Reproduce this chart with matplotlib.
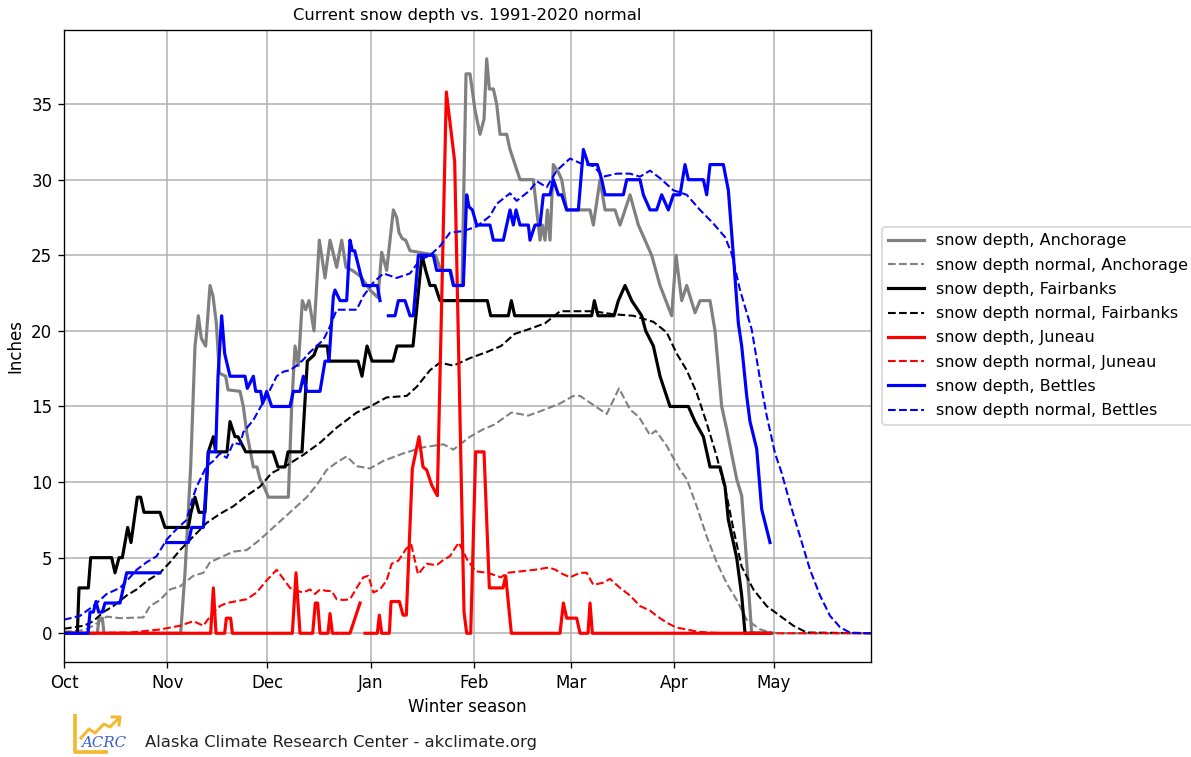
import numpy as np
import matplotlib
matplotlib.use("Agg")
import matplotlib.pyplot as plt
from matplotlib.lines import Line2D

nan = np.nan

# ---------------- data (day since Oct 1, inches) ----------------
month_labels = ['Oct', 'Nov', 'Dec', 'Jan', 'Feb', 'Mar', 'Apr', 'May']
month_days = [0, 31, 61, 92, 123, 152, 183, 213]

anchorage_depth = [
    (0, 0), (10, 0), (10.5, 1), (11.5, 1), (12, 0), (35, 0), (36.3, 4), (38, 11), (39.3, 19),
    (40.3, 21), (41.2, 19.5), (42.5, 19), (43.8, 23), (44.7, 22.3), (45.7, 20.5), (46.6, 17.2),
    (48.5, 17), (49.2, 16.1), (52.8, 16), (53.8, 15), (54.8, 13.3), (56.8, 11), (57.9, 11),
    (58.8, 10.2), (60, 9.7), (61.3, 9), (67.3, 9), (68.3, 15), (69.3, 19), (70.3, 17.7),
    (71.5, 22), (72.5, 21.4), (73.5, 22), (75, 20), (76.6, 26), (78.3, 23.5), (79.8, 26),
    (81.8, 24.2), (83.3, 26), (84.6, 24.2), (86.5, 24), (89, 23.6), (91.8, 22.7), (94.2, 22.2),
    (95.3, 25.2), (96.8, 24), (98.8, 28), (99.8, 27.5), (100.5, 26.5), (101.5, 26.1),
    (102.5, 26), (103.8, 25.3), (111.5, 25), (113, 24), (116, 24), (117, 23), (119.4, 23),
    (120.6, 37), (121.8, 37), (123.3, 34.6), (124.8, 33), (126, 34), (126.8, 38), (127.6, 36),
    (128.8, 36), (129.8, 35), (130.8, 33), (132.8, 33), (133.8, 32), (135.3, 31), (136.8, 30),
    (140.8, 30), (142.8, 26), (143.5, 27), (144.3, 26), (145, 28), (145.8, 26), (146.8, 31),
    (148.3, 30.5), (149.3, 30), (150.8, 28), (157.8, 28), (158.8, 27), (160.8, 30), (162.3, 28),
    (165.3, 28), (166.8, 27), (169.8, 29), (172.3, 27), (174.3, 26), (176.3, 25), (178.8, 23),
    (182.3, 21), (183.6, 25), (185.3, 22), (186.8, 23), (189.3, 21.2), (190.8, 22), (193.8, 22),
    (195.3, 20), (197.3, 15), (198.8, 13.5), (201.8, 10.2), (203.3, 9.1), (204.8, 4.7),
    (206.3, 0), (212, 0)]

anchorage_normal = [
    (0, 0.1), (6, 0.2), (8.8, 0.5), (12.8, 1.1), (16.8, 1.0), (23.8, 1.05), (25.8, 1.8),
    (28.8, 2.2), (31.8, 2.9), (34.8, 3.1), (38.8, 3.8), (41.8, 4.0), (43.8, 4.7), (46.8, 5.0),
    (50.8, 5.4), (54.8, 5.5), (58.8, 6.2), (63.8, 7.2), (68.8, 8.2), (72.8, 9.0), (75.8, 9.8),
    (78.8, 10.8), (81.8, 11.3), (84.8, 11.7), (87.8, 11.05), (91.8, 10.9), (95.8, 11.4),
    (101.8, 11.9), (107.8, 12.3), (113.8, 12.5), (116.8, 12.15), (121.8, 13.0), (125.8, 13.5),
    (129.1, 13.8), (134.2, 14.6), (139.3, 14.4), (144.3, 14.8), (148.8, 15.2), (152.8, 15.7),
    (154.8, 15.7), (158.8, 15.1), (162.8, 14.5), (166.5, 16.2), (169.8, 14.8), (172.5, 14.3),
    (175.8, 13.1), (177.5, 13.4), (180.8, 12.4), (184.8, 10.8), (186.8, 10.2), (189.8, 8.4),
    (192.8, 6.4), (195.8, 4.7), (198.8, 3.3), (201.8, 2.2), (204.8, 0.9), (208.8, 0.26),
    (212, 0.04), (216, 0), (242, 0)]

fairbanks_depth = [
    (0, 0), (4, 0), (4.5, 3), (7.3, 3), (8, 5), (14.3, 5), (15.3, 4), (16.5, 5), (17.5, 5),
    (18.3, 6), (19.1, 7), (20.1, 6), (22, 9), (23, 9), (24, 8), (28.8, 8), (30.3, 7), (37.3, 7),
    (38.1, 8), (39.3, 9), (40.5, 8), (42.3, 8), (43.3, 12), (44.8, 13), (45.5, 12), (48.9, 12),
    (49.8, 14), (51.3, 13), (52.2, 13), (54.5, 12), (62.7, 12), (64.2, 11), (66.3, 11),
    (67.2, 12), (71.4, 12), (73, 18), (75, 18.4), (76, 19), (79, 19), (79.5, 18), (88.2, 18),
    (89.4, 17), (90.9, 19), (92.4, 18), (98.7, 18), (99.9, 19), (104.7, 19), (107.4, 25),
    (108.5, 24), (109.8, 23), (111.3, 23), (112.8, 22), (127, 22), (128, 21), (133.3, 21),
    (134.2, 22), (135.2, 21), (158.3, 21), (159.1, 22), (160.2, 21), (165, 21), (166.3, 22),
    (168.3, 23), (170.3, 22), (173.3, 21), (174.5, 20), (176.8, 19), (178.8, 17), (181.8, 15),
    (187.3, 15), (189.3, 14), (191.8, 13), (193.8, 11), (196.8, 11), (198.3, 9.7), (199.3, 7.5),
    (201.8, 5), (203.3, 2.5), (204.3, 0), (212, 0)]

fairbanks_normal = [
    (0, 0.3), (6, 0.5), (8.8, 0.8), (11.8, 1.4), (14.8, 1.8), (18.8, 2.5), (21.8, 2.9),
    (24.8, 3.45), (28.8, 4.0), (31.8, 4.7), (34.8, 5.5), (38.8, 6.4), (42.8, 7.3), (46.8, 7.9),
    (50.8, 8.4), (54.8, 9.1), (58.8, 9.7), (62.3, 10.6), (66.8, 11.1), (71.8, 11.8),
    (76.8, 12.6), (81.8, 13.6), (87.8, 14.6), (91.8, 15.0), (96.8, 15.6), (102.8, 15.7),
    (105.8, 16.3), (109.8, 17.4), (112.8, 17.9), (116.8, 17.7), (121.8, 18.2), (126.8, 18.6),
    (131.1, 19.0), (135.2, 19.8), (139.3, 20.1), (144.3, 20.5), (148.8, 21.3), (152.8, 21.3),
    (158.8, 21.3), (164.8, 21.1), (170.8, 21.0), (176.8, 20.6), (180.8, 19.9), (183.8, 18.5),
    (186.8, 17.4), (189.8, 15.9), (192.8, 13.9), (195.8, 11.7), (198.8, 9.1), (200.8, 6.9),
    (203.3, 4.4), (206.8, 2.9), (210.8, 1.8), (214.8, 1.15), (218.8, 0.5), (222.8, 0.05),
    (242, 0)]

juneau_depth = [
    (0, 0), (44, 0), (44.8, 3), (45.6, 0), (48.2, 0), (48.7, 1), (50, 1), (50.5, 0), (68.5, 0),
    (69.6, 4), (70.8, 0), (74.6, 0), (75.4, 2), (76.1, 2), (76.8, 0), (79.2, 0), (79.8, 1.3),
    (80.5, 0), (82.3, 0), (82.8, nan), (83.3, 0), (85.8, 0), (88.8, 2), (89.5, nan), (90.3, 0),
    (94, 0), (94.6, 1.2), (95.3, 0), (97.6, 0), (98.1, 2.1), (100.6, 2.1), (101.7, 1.2),
    (102.7, 1.2), (104.5, 10.9), (106.5, 13), (107.7, 11), (108.8, 10.8), (110.3, 9.8),
    (112, 9.1), (114.7, 35.8), (117.2, 31.2), (120, 1.4), (120.8, 0), (122, 0), (123.5, 12),
    (126, 12), (127.6, 3), (131.7, 3), (132.5, 3.8), (134.2, 0), (148.8, 0), (149.8, 2),
    (150.8, 1), (153.8, 1), (154.8, 0), (157.2, 0), (157.8, 2), (158.5, 0), (212, 0)]

juneau_normal = [
    (0, 0), (20, 0.05), (28.8, 0.25), (34.8, 0.5), (38.8, 0.8), (41.8, 0.5), (44.8, 1.4),
    (46.8, 1.8), (48.8, 2.0), (54.8, 2.25), (57.8, 2.7), (60.8, 3.5), (63.8, 4.2), (65.8, 3.6),
    (67.8, 3.0), (69.8, 2.8), (71.8, 2.7), (73.8, 2.9), (75.3, 2.6), (76.8, 2.9), (78.8, 2.8),
    (80.3, 2.8), (81.8, 2.25), (83.8, 2.2), (85.8, 2.25), (87.8, 3.0), (89.8, 3.7), (91.3, 3.8),
    (92.8, 2.7), (94.8, 2.9), (96.8, 3.5), (98.3, 4.6), (100.3, 4.8), (102.7, 5.6),
    (104.2, 5.85), (106.2, 3.9), (108.8, 4.6), (111.8, 4.5), (113.8, 4.85), (115.8, 5.1),
    (118.4, 6.0), (121, 4.85), (123.5, 4.1), (127.1, 4.0), (131.1, 3.7), (133, 4.0),
    (137.2, 4.1), (141.3, 4.2), (145.4, 4.35), (147.5, 4.2), (148.8, 4.0), (151.8, 3.7),
    (154.8, 4.0), (156.8, 4.0), (158.8, 3.2), (161.8, 3.35), (163.8, 3.6), (166.8, 3.0),
    (169.8, 2.5), (172.8, 1.8), (175.8, 1.5), (177.8, 1.15), (180.8, 0.7), (183.8, 0.37),
    (186.8, 0.26), (190, 0.1), (195, 0.03), (200, 0), (242, 0)]

bettles_depth = [
    (0, 0), (7.2, 0), (7.8, 1.4), (8.8, 1.4), (9.6, 2.1), (10.4, 1.4), (11.5, 1.4), (12.3, 2),
    (16.8, 2), (18.8, 4), (28.8, 4), (29.8, nan), (30.8, 6), (37.3, 6), (38.3, 7), (41.8, 7),
    (43.3, 12), (45.5, 12), (46.2, 17), (47.3, 21), (48.2, 18.5), (49.8, 17), (54.3, 17),
    (55, 16.2), (56.8, 17), (57.5, 16), (59, 16), (59.6, 15.2), (60.8, 16), (62.3, 15),
    (67.8, 15), (68.8, 16), (70.8, 16), (71.8, 17), (72.8, 16), (76.8, 16), (78.3, 18),
    (79.5, 18), (80.8, 22.3), (81.3, 22.7), (82.8, 22), (84.8, 22), (85.8, 26), (86.5, 25.3),
    (87.2, 25.3), (89.8, 23), (94, 23), (94.8, 22), (96, nan), (97.3, 21), (99.3, 21),
    (100.3, 22), (102.3, 22), (103.8, 21), (104.8, 21), (106.3, 25), (110.8, 25), (111.8, 24),
    (115.8, 24), (116.8, 23), (119.8, 23), (120.8, 29), (121.5, 28.2), (122.5, 28),
    (123.8, 27), (127.8, 27), (128.8, 26), (131.8, 26), (133.8, 28), (134.8, 27), (135.6, 28),
    (136.8, 27), (139.3, 27), (139.8, 26), (141.3, 27), (142.8, 27), (143.8, 29), (145.8, 29),
    (146.8, 30), (148.3, 29), (149.3, 29), (150.8, 28), (154.3, 28), (155.8, 32), (157.3, 31),
    (160, 31), (161.3, 30), (162.3, 29), (167.8, 29), (168.8, 30), (172.8, 30), (173.8, 29),
    (175.8, 28), (177.8, 28), (179.3, 29), (181.3, 28), (182.8, 29), (184.8, 29), (186.3, 31),
    (187.3, 30), (191.8, 30), (192.8, 29), (193.8, 31), (197.8, 31), (199.3, 29.3),
    (200.8, 25), (202.3, 20.5), (203.3, 19), (204.8, 15.7), (205.8, 14), (207.8, 12.2),
    (209.3, 8.2), (211.8, 6)]

bettles_normal = [
    (0, 0.9), (4.8, 1.15), (8.8, 1.8), (12.8, 2.6), (16.8, 3.0), (18.8, 3.45), (21.8, 4.2),
    (24.8, 4.7), (27.8, 5.1), (30.8, 6.2), (33.8, 6.9), (36.8, 7.5), (38.8, 9.07), (39.8, 9.7),
    (42.8, 11.05), (44.8, 11.4), (46.8, 11.9), (48.8, 11.6), (50.8, 12.6), (52.8, 12.5),
    (53.8, 13.3), (56.8, 14.1), (59.8, 15.3), (61.8, 16.1), (63.8, 17.0), (65.8, 17.3),
    (67.8, 17.4), (69.8, 17.7), (71.8, 18.1), (73.8, 18.6), (77.8, 19.4), (79.8, 20.3),
    (81.8, 21.4), (84.8, 21.4), (87.8, 21.4), (89.8, 22.3), (92.8, 23.2), (95.8, 23.8),
    (99.8, 23.5), (103.8, 23.8), (106.8, 24.7), (109.8, 25.0), (112.8, 25.6), (115.8, 26.5),
    (119.8, 26.6), (123.8, 26.9), (127.8, 27.6), (129.8, 28.4), (133.8, 29.1), (135.8, 28.6),
    (139.8, 29.3), (141.8, 29.9), (144.8, 29.5), (147.8, 30.6), (151.8, 31.4), (154.8, 31.1),
    (158.8, 30.9), (161.8, 30.2), (165.8, 30.4), (169.8, 30.4), (172.8, 30.2), (175.8, 30.6),
    (178.8, 30.1), (182.8, 29.3), (186.8, 29.0), (190.8, 28.0), (194.8, 27.1), (198.3, 26.2),
    (200.3, 25.1), (202.8, 22.7), (206.3, 20.1), (208.8, 16.8), (210.8, 14.4), (213.3, 11.9),
    (215.3, 10.6), (217.8, 8.6), (220.8, 6.4), (223.8, 4.2), (226.8, 2.5), (229.8, 1.15),
    (232.8, 0.4), (235.8, 0.04), (242, 0)]

series = [
    ('snow depth, Anchorage', anchorage_depth, 'gray', '-'),
    ('snow depth normal, Anchorage', anchorage_normal, 'gray', '--'),
    ('snow depth, Fairbanks', fairbanks_depth, 'black', '-'),
    ('snow depth normal, Fairbanks', fairbanks_normal, 'black', '--'),
    ('snow depth, Juneau', juneau_depth, 'red', '-'),
    ('snow depth normal, Juneau', juneau_normal, 'red', '--'),
    ('snow depth, Bettles', bettles_depth, 'blue', '-'),
    ('snow depth normal, Bettles', bettles_normal, 'blue', '--'),
]

# ---------------- figure ----------------
W, H, DPI = 1191, 757, 120
fig = plt.figure(figsize=(W / DPI, H / DPI), dpi=DPI)
ax = fig.add_axes([64 / W, 1 - 662 / H, (870.7 - 64) / W, (662 - 30) / H])

for label, pts, color, ls in series:
    x = [p[0] for p in pts]
    y = [p[1] for p in pts]
    lw = 1.9 if ls == '-' else 1.25
    ax.plot(x, y, color=color, linestyle=ls, linewidth=lw, label=label)

ax.set_xlim(0, 242)
ax.set_ylim(-1.9, 39.9)
ax.set_xticks(month_days)
ax.set_xticklabels(month_labels)
ax.set_yticks(range(0, 40, 5))
ax.grid(True, color='#b0b0b0', linewidth=0.9)
ax.set_xlabel('Winter season')
ax.set_ylabel('Inches')
ax.set_title('Current snow depth vs. 1991-2020 normal', fontsize=9.8)

ax.legend(loc='center left', bbox_to_anchor=(1.004, 0.532), fontsize=9.6,
          labelspacing=0.58, handlelength=2.2, borderaxespad=0.5)

# ---------------- footer logo + credit ----------------
def fx(px):
    return px / W

def fy(py):
    return 1 - py / H

yellow = '#f2b830'
fig.add_artist(Line2D([fx(75), fx(75), fx(108)], [fy(714), fy(752), fy(752)],
                      color=yellow, lw=2.2, solid_capstyle='butt'))
fig.add_artist(Line2D([fx(81), fx(89), fx(95), fx(104), fx(110), fx(119)],
                      [fy(738), fy(729), fy(733), fy(724), fy(727), fy(718)],
                      color=yellow, lw=1.8))
fig.add_artist(Line2D([fx(112), fx(120), fx(119)], [fy(717), fy(717), fy(725)],
                      color=yellow, lw=1.8))
fig.text(fx(81), fy(743), 'ACRC', color='#3b5fc0', fontsize=9, style='italic',
         family='DejaVu Serif', va='center', ha='left')
fig.text(fx(145), fy(742), 'Alaska Climate Research Center - akclimate.org',
         fontsize=9.8, va='center', ha='left', color='#222222')

fig.savefig('out.png', dpi=DPI)
